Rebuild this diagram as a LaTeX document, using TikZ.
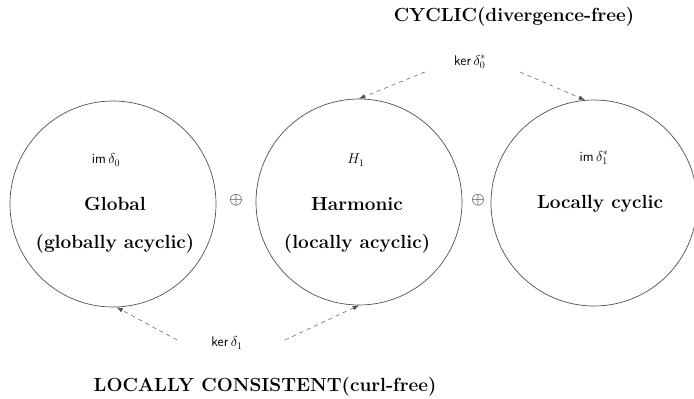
\documentclass[tikz,border=0pt]{standalone}
\usepackage{amsmath, amssymb}
\usepackage{tikz}
\usetikzlibrary{arrows.meta, positioning}
\definecolor{linegray}{RGB}{80,80,80}

\begin{document}
\begin{tikzpicture}[
    x=1pt, y=-1pt,
    space/.style={circle, draw=linegray, line width=0.7pt, minimum size=206pt, inner sep=0pt},
    title/.style={font=\fontsize{19}{23}\selectfont\bfseries, inner sep=1pt},
    head/.style={font=\fontsize{19}{23}\selectfont\bfseries, inner sep=1pt},
    small/.style={font=\fontsize{14}{16}\selectfont\sffamily, inner sep=1pt},
    dsum/.style={font=\fontsize{17}{19}\selectfont, inner sep=1pt},
    link/.style={-{Latex[length=2.2mm, width=1.6mm]}, dashed, dash pattern=on 4pt off 4pt, line width=0.5pt, draw=linegray}
]
\useasboundingbox (0,0) rectangle (694,399);

% the three subspaces
\node[space] (glob) at (113,204) {};
\node[space] (harm) at (359,202) {};
\node[space] (loc) at (594,203) {};

\node[small] (im0) at (106,160) {im\,$\delta_0$};
\node[title] (globname) at (115,204) {Global};
\node[title] (globsub) at (115,244) {(globally acyclic)};

\node[small] (h1) at (356,160) {$H_1$};
\node[title] (harmname) at (357,204) {Harmonic};
\node[title] (harmsub) at (357,244) {(locally acyclic)};

\node[small] (im1) at (594,158) {im\,$\delta_1^*$};
\node[title] (locname) at (600,204) {Locally cyclic};

\node[dsum] (plus1) at (236,200) {$\oplus$};
\node[dsum] (plus2) at (478,200) {$\oplus$};

% kernels
\node[head] (cyc) at (514,17) {CYCLIC(divergence-free)};
\node[small] (ker0) at (470,62) {ker\,$\delta_0^*$};
\node[head] (cons) at (265,387) {LOCALLY CONSISTENT(curl-free)};
\node[small] (ker1) at (227,343) {ker\,$\delta_1$};

\coordinate (k0l) at (425,72);
\coordinate (k0r) at (520,72);
\coordinate (k1l) at (177,340);
\coordinate (k1r) at (285,340);

\draw[link] (k0l) -- (harm.north);
\draw[link] (k0r) -- (loc.95);
\draw[link] (k1l) -- (glob.-88);
\draw[link] (k1r) -- (harm.south);
\end{tikzpicture}
\end{document}
